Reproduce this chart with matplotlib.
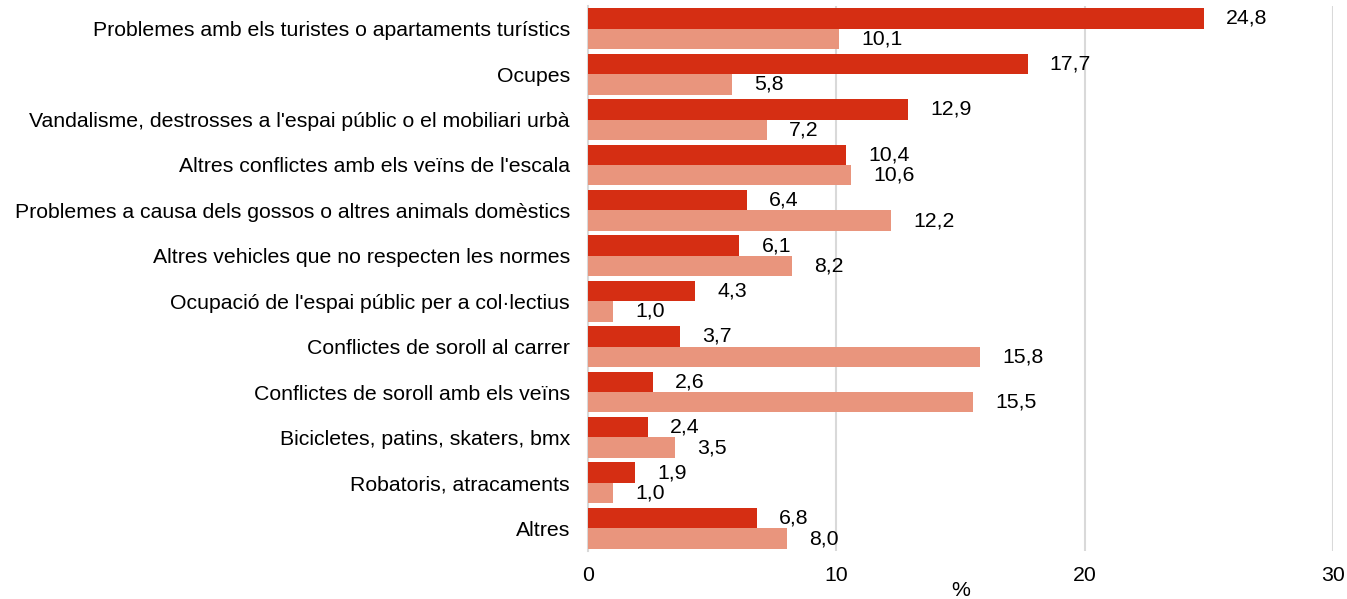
import matplotlib
matplotlib.use("Agg")
import matplotlib.pyplot as plt
import numpy as np

plt.rcParams['font.family'] = ['Liberation Sans', 'DejaVu Sans']

categories = [
    "Problemes amb els turistes o apartaments turístics",
    "Ocupes",
    "Vandalisme, destrosses a l'espai públic o el mobiliari urbà",
    "Altres conflictes amb els veïns de l'escala",
    "Problemes a causa dels gossos o altres animals domèstics",
    "Altres vehicles que no respecten les normes",
    "Ocupació de l'espai públic per a col·lectius",
    "Conflictes de soroll al carrer",
    "Conflictes de soroll amb els veïns",
    "Bicicletes, patins, skaters, bmx",
    "Robatoris, atracaments",
    "Altres",
]
series_a = [24.8, 17.7, 12.9, 10.4, 6.4, 6.1, 4.3, 3.7, 2.6, 2.4, 1.9, 6.8]
series_b = [10.1, 5.8, 7.2, 10.6, 12.2, 8.2, 1.0, 15.8, 15.5, 3.5, 1.0, 8.0]
x_ticks = [0, 10, 20, 30]

color_a = "#D52E13"
color_b = "#E9957D"

fig = plt.figure(figsize=(13.47, 5.99), dpi=100)
ax = fig.add_axes([588 / 1347, 1 - 551 / 599, (1333 - 588) / 1347, (551 - 6) / 599])

y = np.arange(len(categories))
h = 0.45
ax.barh(y - 0.225, series_a, height=h, color=color_a, zorder=3)
ax.barh(y + 0.225, series_b, height=h, color=color_b, zorder=3)

fs = 15.3
for yi, va, vb in zip(y, series_a, series_b):
    ax.annotate(f"{va:.1f}".replace(".", ","), (va, yi - 0.225), xytext=(16, 0),
                textcoords="offset points", ha="left", va="center", fontsize=fs)
    ax.annotate(f"{vb:.1f}".replace(".", ","), (vb, yi + 0.225), xytext=(16, 0),
                textcoords="offset points", ha="left", va="center", fontsize=fs)

ax.set_xlim(0, 30)
ax.set_ylim(len(categories) - 0.5, -0.5)
ax.set_xticks(x_ticks)
ax.set_xticklabels([str(t) for t in x_ticks], fontsize=fs)
ax.set_yticks(y)
ax.set_yticklabels(categories, fontsize=fs)
ax.tick_params(axis="both", length=0)
ax.tick_params(axis="y", pad=13)
ax.tick_params(axis="x", pad=11)

ax.grid(axis="x", color="#D9D9D9", linewidth=1.5, zorder=0)
ax.grid(axis="y", visible=False)
for s in ["top", "right", "bottom"]:
    ax.spines[s].set_visible(False)
ax.spines["left"].set_color("#D9D9D9")
ax.spines["left"].set_linewidth(1.5)

ax.set_xlabel("%", fontsize=fs, labelpad=-3)

fig.savefig("out.png", dpi=100)
